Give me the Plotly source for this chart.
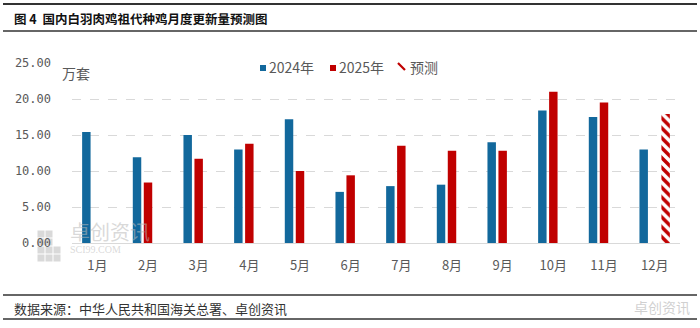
import plotly.graph_objects as go

months = ["1月", "2月", "3月", "4月", "5月", "6月", "7月", "8月", "9月", "10月", "11月", "12月"]
v2024 = [15.4, 11.9, 15.0, 13.0, 17.2, 7.1, 7.9, 8.1, 14.0, 18.4, 17.5, 13.0]
v2025 = [None, 8.4, 11.7, 13.8, 10.0, 9.4, 13.5, 12.8, 12.8, 21.0, 19.5, None]
vforecast = [None, None, None, None, None, None, None, None, None, None, None, 17.9]
yticks = [0, 5, 10, 15, 20, 25]
ytick_text = ["0.00", "5.00", "10.00", "15.00", "20.00", "25.00"]
legend_names = ["2024年", "2025年", "预测"]

BLUE = "#12689C"
RED = "#C00000"
GRAY = "#595959"
CJK = "Noto Sans CJK SC"

W, H = 700, 328
ML, MR, MT, MB = 72, 20, 63, 85
PW, PH = W - ML - MR, H - MT - MB


def px(x):
    return (x - ML) / PW


def py(y):
    return (H - MB - y) / PH


fig = go.Figure()
fig.add_trace(go.Bar(x=months, y=v2024, name=legend_names[0],
                     marker=dict(color=BLUE, line=dict(width=0))))
fig.add_trace(go.Bar(x=months, y=v2025, name=legend_names[1],
                     marker=dict(color=RED, line=dict(width=0))))
fig.add_trace(go.Bar(x=months, y=vforecast, name=legend_names[2],
                     marker=dict(color="white", line=dict(width=0),
                                 pattern=dict(shape="\\", fgcolor=RED, bgcolor="white",
                                              size=7, solidity=0.5, fillmode="replace",
                                              fgopacity=1))))

fig.update_layout(
    width=W, height=H,
    margin=dict(l=ML, r=MR, t=MT, b=MB),
    paper_bgcolor="white", plot_bgcolor="white",
    barmode="group", bargap=0.35, bargroupgap=0.23,
    font=dict(family=CJK, color=GRAY, size=13),
    showlegend=False,
    xaxis=dict(showgrid=False, showline=True, linecolor="#D9D9D9", linewidth=1,
               ticks="", ticklabelstandoff=10,
               tickfont=dict(family=CJK, size=13, color=GRAY)),
    yaxis=dict(range=[0, 25], tickvals=yticks, ticktext=ytick_text,
               showgrid=True, gridcolor="#D9D9D9", griddash="dash", gridwidth=1,
               zeroline=False, showline=False, ticks="",
               ticklabelstandoff=20,
               tickfont=dict(family="DejaVu Sans Mono", size=12, color=GRAY)),
)

# Manual legend (keys)
fig.add_shape(type="rect", xref="paper", yref="paper",
              x0=px(260), x1=px(266), y0=py(71), y1=py(65),
              fillcolor=BLUE, line=dict(width=0))
fig.add_shape(type="rect", xref="paper", yref="paper",
              x0=px(330), x1=px(336), y0=py(71), y1=py(65),
              fillcolor=RED, line=dict(width=0))
fig.add_shape(type="line", xref="paper", yref="paper",
              x0=px(398), x1=px(405), y0=py(63), y1=py(70),
              line=dict(color=RED, width=2.2))
for name, x0 in zip(legend_names, [267, 337, 408]):
    fig.add_annotation(text=name, xref="paper", yref="paper", x=px(x0), y=py(67),
                       xanchor="left", yanchor="middle", showarrow=False,
                       font=dict(family=CJK, size=14, color=GRAY))

# Unit label
fig.add_annotation(text="万套", xref="paper", yref="paper", x=px(60), y=py(73),
                   xanchor="left", yanchor="middle", showarrow=False,
                   font=dict(family=CJK, size=14, color=GRAY))

# Title and source
fig.add_annotation(text="<b>图 4  国内白羽肉鸡祖代种鸡月度更新量预测图</b>", xref="paper", yref="paper",
                   x=px(12), y=py(18), xanchor="left", yanchor="middle", showarrow=False,
                   font=dict(family=CJK, size=12.5, color="#111111"))
fig.add_annotation(text="数据来源：中华人民共和国海关总署、卓创资讯", xref="paper", yref="paper",
                   x=px(12), y=py(308), xanchor="left", yanchor="middle", showarrow=False,
                   font=dict(family=CJK, size=13, color="#333333"))

# Watermarks
WM = "rgba(185,185,185,0.55)"
for (cx, cy) in [(41, 234), (49, 234), (41, 242), (49, 242), (41, 250), (49, 250), (41, 258), (49, 258),
                 (57, 250), (57, 258)]:
    fig.add_shape(type="rect", xref="paper", yref="paper",
                  x0=px(cx - 3.5), x1=px(cx + 3.5), y0=py(cy + 3.5), y1=py(cy - 3.5),
                  fillcolor=WM, line=dict(width=0), layer="below")
fig.add_annotation(text="<span style='font-size:20px'>卓创资讯</span><br>"
                        "<span style='font-family:Liberation Serif'>SCI99.COM</span>",
                   xref="paper", yref="paper", x=px(68), y=py(236),
                   xanchor="left", yanchor="middle", align="left", showarrow=False,
                   font=dict(family=CJK, size=10, color=WM))
fig.add_annotation(text="卓创资讯", xref="paper", yref="paper", x=px(692), y=py(307),
                   xanchor="right", yanchor="middle", showarrow=False,
                   font=dict(family=CJK, size=14, color="rgba(200,200,200,0.85)"))


# Rules (horizontal lines)
def hline(ypx, w):
    fig.add_shape(type="line", xref="paper", yref="paper",
                  x0=px(3), x1=px(697), y0=py(ypx), y1=py(ypx),
                  line=dict(color="#333333", width=w))


hline(4, 2.2)
hline(31, 1.5)
hline(295, 1.5)
hline(319, 1.5)

fig.write_html("out.html")
